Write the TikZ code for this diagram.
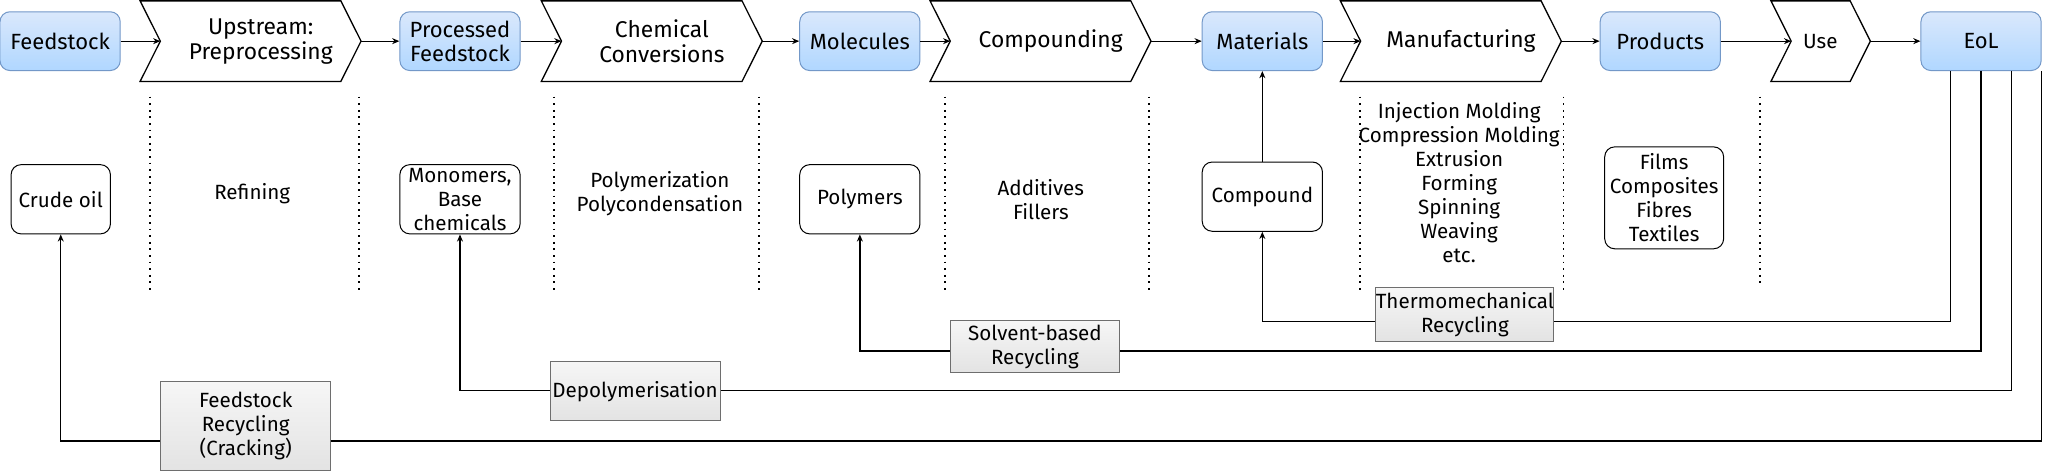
\documentclass[tikz,border=0pt]{standalone}
\usepackage{fontspec}
\setmainfont{Fira Sans}
\usetikzlibrary{arrows.meta,calc,positioning}

\definecolor{hubtop}{HTML}{DAE8FC}
\definecolor{hubbot}{HTML}{B0D7FF}
\definecolor{hubline}{HTML}{7398C8}
\definecolor{routetop}{HTML}{F6F6F6}
\definecolor{routebot}{HTML}{E3E3E3}
\definecolor{routeline}{HTML}{6E6E6E}

\def\u{0.6534pt}
\def\chevdep{10.1pt}

\tikzset{
    flow/.style={-{Stealth[length=3.6pt,width=3pt]}, line width=0.65pt},
    hub/.style={draw=hubline, line width=0.5pt, rounded corners=5pt, top color=hubtop, bottom color=hubbot,
        minimum width=92*\u, minimum height=45*\u, inner sep=0pt, align=center, font=\fontsize{11}{12}\selectfont},
    stage/.style={minimum width=153*\u, minimum height=61*\u, inner sep=0pt, align=center, font=\fontsize{11.4}{12.5}\selectfont},
    thing/.style={draw, line width=0.5pt, rounded corners=5pt, minimum width=92*\u, minimum height=53*\u,
        inner sep=0pt, align=center, font=\fontsize{10.3}{12}\selectfont},
    note/.style={inner sep=0pt, align=center, font=\fontsize{10.3}{12}\selectfont},
    route/.style={draw=routeline, line width=0.5pt, top color=routetop, bottom color=routebot,
        minimum width=130*\u, inner sep=0pt, align=center, font=\fontsize{10.3}{12}\selectfont},
    divider/.style={line width=0.9pt, dash pattern=on 0.9pt off 2.4pt},
}

\begin{document}
\begin{tikzpicture}[x=\u, y=-\u]
    \useasboundingbox ( 0, 0 ) rectangle ( 1568, 361 );

    % value chain
    \node [hub] (feed) at ( 46, 31.5 ) {Feedstock};
    \node [stage] (up) at ( 199.5, 31.5 ) {Upstream:\\Preprocessing};
    \node [hub] (proc) at ( 352, 31.5 ) {Processed\\Feedstock};
    \node [stage] (chem) at ( 506.5, 31.5 ) {Chemical\\Conversions};
    \node [hub] (mol) at ( 658, 31.5 ) {Molecules};
    \node [stage] (comp) at ( 804, 31.5 ) {Compounding};
    \node [hub] (mat) at ( 966, 31.5 ) {Materials};
    \node [stage] (manu) at ( 1118, 31.5 ) {Manufacturing};
    \node [hub] (prod) at ( 1270.5, 31.5 ) {Products};
    \node [stage, minimum width=60*\u, font=\fontsize{10.3}{12}\selectfont] (use) at ( 1401, 31.5 ) {\hspace*{-10.4pt}Use};
    \node [hub] (eol) at ( 1516, 31.5 ) {EoL};

    \foreach \n in {up, chem, comp, manu, use}
        \draw [line width=0.65pt] ([xshift=-\chevdep]\n.north west) -- (\n.west) -- ([xshift=-\chevdep]\n.south west)
            -- ([xshift=-\chevdep]\n.south east) -- (\n.east) -- ([xshift=-\chevdep]\n.north east) -- cycle;

    \draw [flow] (feed) -- (up.west);
    \draw [flow] (up.east) -- (proc);
    \draw [flow] (proc) -- (chem.west);
    \draw [flow] (chem.east) -- (mol);
    \draw [flow] (mol) -- (comp.west);
    \draw [flow] (comp.east) -- (mat);
    \draw [flow] (mat) -- (manu.west);
    \draw [flow] (manu.east) -- (prod);
    \draw [flow] (prod) -- (use.west);
    \draw [flow] (use.east) -- (eol);

    % separators
    \foreach \x in {115, 275, 424, 581, 723, 879, 1040.5, 1196.5}
        \draw [divider] ( \x, 74 ) -- ( \x, 222.5 );
    \draw [divider] ( 1347, 74 ) -- ( 1347, 218.5 );

    % intermediate products and processes
    \node [thing, minimum width=76*\u] (crude) at ( 46.5, 152.5 ) {Crude oil};
    \node [note] (refine) at ( 193, 148 ) {Refining};
    \node [thing] (mono) at ( 352, 152.5 ) {Monomers,\\Base\\chemicals};
    \node [note] (polyproc) at ( 505, 148 ) {Polymerization\\Polycondensation};
    \node [thing] (polym) at ( 658, 152.5 ) {Polymers};
    \node [note] (additive) at ( 796.5, 152.7 ) {Additives\\Fillers};
    \node [thing] (compd) at ( 966, 150.5 ) {Compound};
    \node [note] (methods) at ( 1116.6, 139.8 )
        {Injection Molding\\Compression Molding\\Extrusion\\Forming\\Spinning\\Weaving\\etc.};
    \node [thing, minimum width=91*\u, minimum height=78*\u] (goods) at ( 1273.5, 151.4 )
        {Films\\Composites\\Fibres\\Textiles};

    \draw [flow] (compd) -- (mat);

    % recycling loops
    \coordinate (lvl1) at ( 0, 246 );
    \coordinate (lvl2) at ( 0, 268.5 );
    \coordinate (lvl3) at ( 0, 299 );
    \coordinate (lvl4) at ( 0, 337.5 );
    \draw [flow] ($(eol.south west)!0.25!(eol.south east)$) |- (compd |- lvl1) -- (compd);
    \draw [flow] ($(eol.south west)!0.5!(eol.south east)$) |- (polym |- lvl2) -- (polym);
    \draw [flow] ($(eol.south west)!0.75!(eol.south east)$) |- (mono |- lvl3) -- (mono);
    \draw [flow] ([xshift=-0.2pt]eol.south east) |- (crude |- lvl4) -- (crude);

    \node [route, minimum height=41.5*\u] (thermo) at ( 1121, 240.8 ) {Thermomechanical\\Recycling};
    \node [route, minimum height=40*\u] (solvent) at ( 792, 265.3 ) {Solvent-based\\Recycling};
    \node [route, minimum height=45*\u] (depoly) at ( 486, 299.5 ) {Depolymerisation};
    \node [route, minimum height=68*\u] (crack) at ( 188, 326 ) {Feedstock\\Recycling\\(Cracking)};
\end{tikzpicture}
\end{document}
